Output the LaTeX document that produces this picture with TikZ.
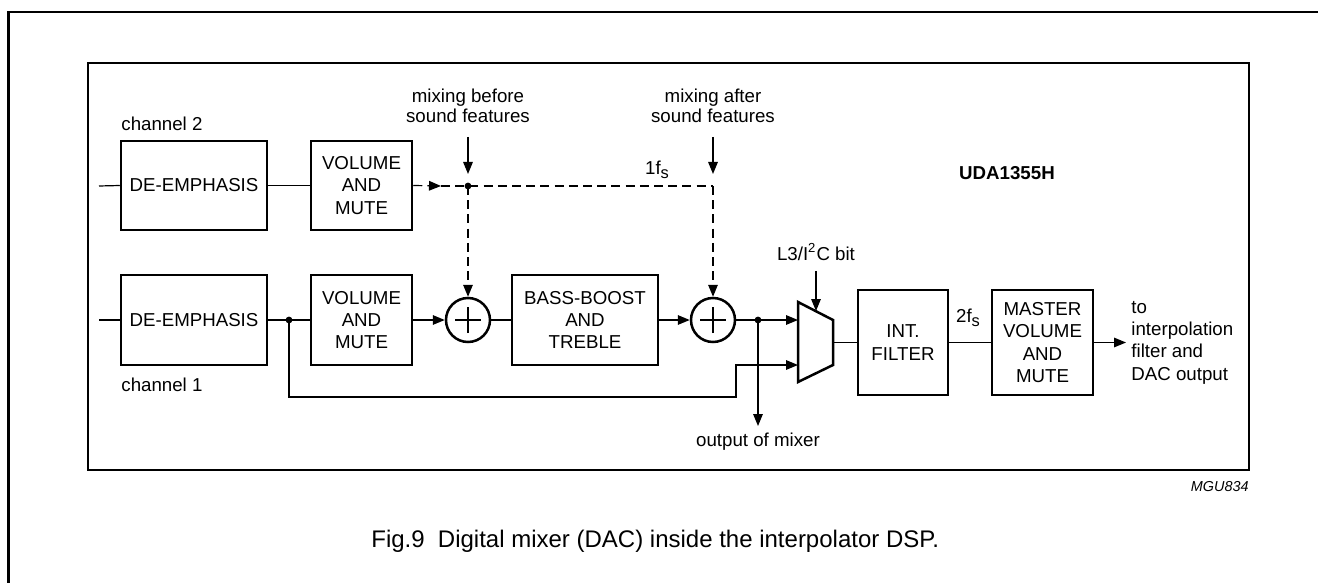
\documentclass[tikz,border=0pt]{standalone}
\usepackage{fontspec}
\setmainfont{Liberation Sans}
\usetikzlibrary{arrows.meta}
\newcommand{\subs}{\raisebox{-0.45ex}{\fontsize{8.2}{8.2}\selectfont s}}
\tikzset{
  blk/.style={draw,line width=1.25pt,inner sep=0pt,align=center,font=\fontsize{9.35}{11.2}\selectfont},
  sumnode/.style={draw,circle,line width=1.25pt,minimum size=22pt,inner sep=0pt},
  lbl/.style={inner sep=0pt,align=center,font=\fontsize{9.35}{11.2}\selectfont},
  thin/.style={line width=0.6pt},
  tip/.style={-{Triangle[length=6pt,width=4.8pt]}},
  arr/.style={thin,tip},
  dsh/.style={thin,dash pattern=on 4.5pt off 2.6pt},
  frame/.style={line width=1.25pt},
  dot/.style={fill=black}
}
\begin{document}
\begin{tikzpicture}[x=0.5pt,y=-0.5pt]
\useasboundingbox (0,0) rectangle (1318,583);
% frames
\draw[frame] (8.5,583) -- (8.5,12) -- (1318,12);
\draw[frame] (88,63) rectangle (1249,470);
% blocks
\node[blk,minimum width=73pt,minimum height=44.5pt] (de2) at (194,185.5) {DE-EMPHASIS};
\node[blk,minimum width=50.5pt,minimum height=44.5pt] (vol2) at (361.5,185.5) {VOLUME\\AND\\MUTE};
\node[blk,minimum width=73pt,minimum height=45pt] (de1) at (194,320) {DE-EMPHASIS};
\node[blk,minimum width=50.5pt,minimum height=45pt] (vol1) at (361.5,320) {VOLUME\\AND\\MUTE};
\node[sumnode] (s1) at (468,320) {};
\node[blk,minimum width=73pt,minimum height=45pt] (bass) at (585,320) {BASS-BOOST\\AND\\TREBLE};
\node[sumnode] (s2) at (713,320) {};
\node[blk,minimum width=45pt,minimum height=52.5pt] (int) at (903,342.5) {INT.\\FILTER};
\node[blk,minimum width=50.5pt,minimum height=52.5pt] (mst) at (1042.5,342.5) {MASTER\\VOLUME\\AND\\MUTE};
% plus signs
\foreach \s in {s1,s2}{
  \draw[line width=0.9pt] ([xshift=-6.5pt]\s.center) -- ([xshift=6.5pt]\s.center);
  \draw[line width=0.9pt] ([yshift=-6.5pt]\s.center) -- ([yshift=6.5pt]\s.center);
}
% multiplexer
\coordinate (m1) at (798,302);
\coordinate (m2) at (833,320);
\coordinate (m3) at (833,365);
\coordinate (m4) at (798,382);
\draw[line width=1.25pt,line join=miter] (m1) -- (m2) -- (m3) -- (m4) -- cycle;
\coordinate (muxin1) at (798,320);
\coordinate (muxin2) at (798,365);
\coordinate (muxout) at (833,342.5);
\coordinate (muxsel) at (816,311);
% coordinates
\coordinate (in2) at (99,186);
\coordinate (in1) at (99,320);
\coordinate (j1) at (289,320);
\coordinate (a0) at (441,186);
\coordinate (d1) at (468,186);
\coordinate (d2) at (713,186);
\coordinate (j2) at (758,320);
\coordinate (c1) at (736,397);
\coordinate (mixout) at (758,426);
\coordinate (outend) at (1126,342.5);
% labels
\node[lbl,anchor=west] (ch2) at (121,124) {channel 2};
\node[lbl,anchor=west] (ch1) at (121,385) {channel 1};
\node[lbl,font=\fontsize{9.35}{9.7}\selectfont] (mb) at (468,106) {mixing before\\sound features};
\node[lbl,font=\fontsize{9.35}{9.7}\selectfont] (ma) at (713,106) {mixing after\\sound features};
\node[lbl] (f1) at (657,170) {1f\subs};
\node[lbl,font=\fontsize{9.35}{11.2}\bfseries] (uda) at (1007,173) {UDA1355H};
\node[lbl] (l3) at (816,252) {L3/I\textsuperscript{2}C bit};
\node[lbl] (f2) at (968,318) {2f\subs};
\node[lbl,align=left,anchor=west] (to) at (1131,342.5) {to\\interpolation\\filter and\\DAC output};
\node[lbl] (om) at (758,442) {output of mixer};
\node[lbl,anchor=east,font=\fontsize{7.2}{8}\itshape] (mgu) at (1249,487) {MGU834};
\node[lbl,anchor=west,font=\fontsize{12}{14}\selectfont] (cap) at (371,541) {Fig.9\hspace{0.55em}Digital mixer (DAC) inside the interpolator DSP.};
% connectors channel 2
\draw[thin] (in2) -- (de2.west);
\draw[thin] (de2.east) -- (vol2.west);
\draw[dsh,tip] (vol2.east) -- (a0);
\draw[dsh] (a0) -- (d1) -- (d2);
\draw[dsh,tip] (d1) -- (s1.north);
\draw[dsh,tip] (d2) -- (s2.north);
\fill[dot] (d1) circle (1.7pt);
\draw[arr] (mb.south) ++(0,14) -- ++(0,37);
\draw[arr] (ma.south) ++(0,14) -- ++(0,37);
% channel 1
\draw[thin] (in1) -- (de1.west);
\draw[thin] (de1.east) -- (vol1.west);
\fill[dot] (j1) circle (1.7pt);
\draw[arr] (vol1.east) -- (s1.west);
\draw[thin] (s1.east) -- (bass.west);
\draw[arr] (bass.east) -- (s2.west);
\draw[arr] (s2.east) -- (muxin1);
\fill[dot] (j2) circle (1.7pt);
\draw[arr] (j1) |- (c1) |- (muxin2);
\draw[arr] (j2) -- (mixout);
\draw[arr] (l3.south) ++(0,10) -- (muxsel);
\draw[thin] (muxout) -- (int.west);
\draw[thin] (int.east) -- (mst.west);
\draw[arr] (mst.east) -- (outend);
\end{tikzpicture}
\end{document}
